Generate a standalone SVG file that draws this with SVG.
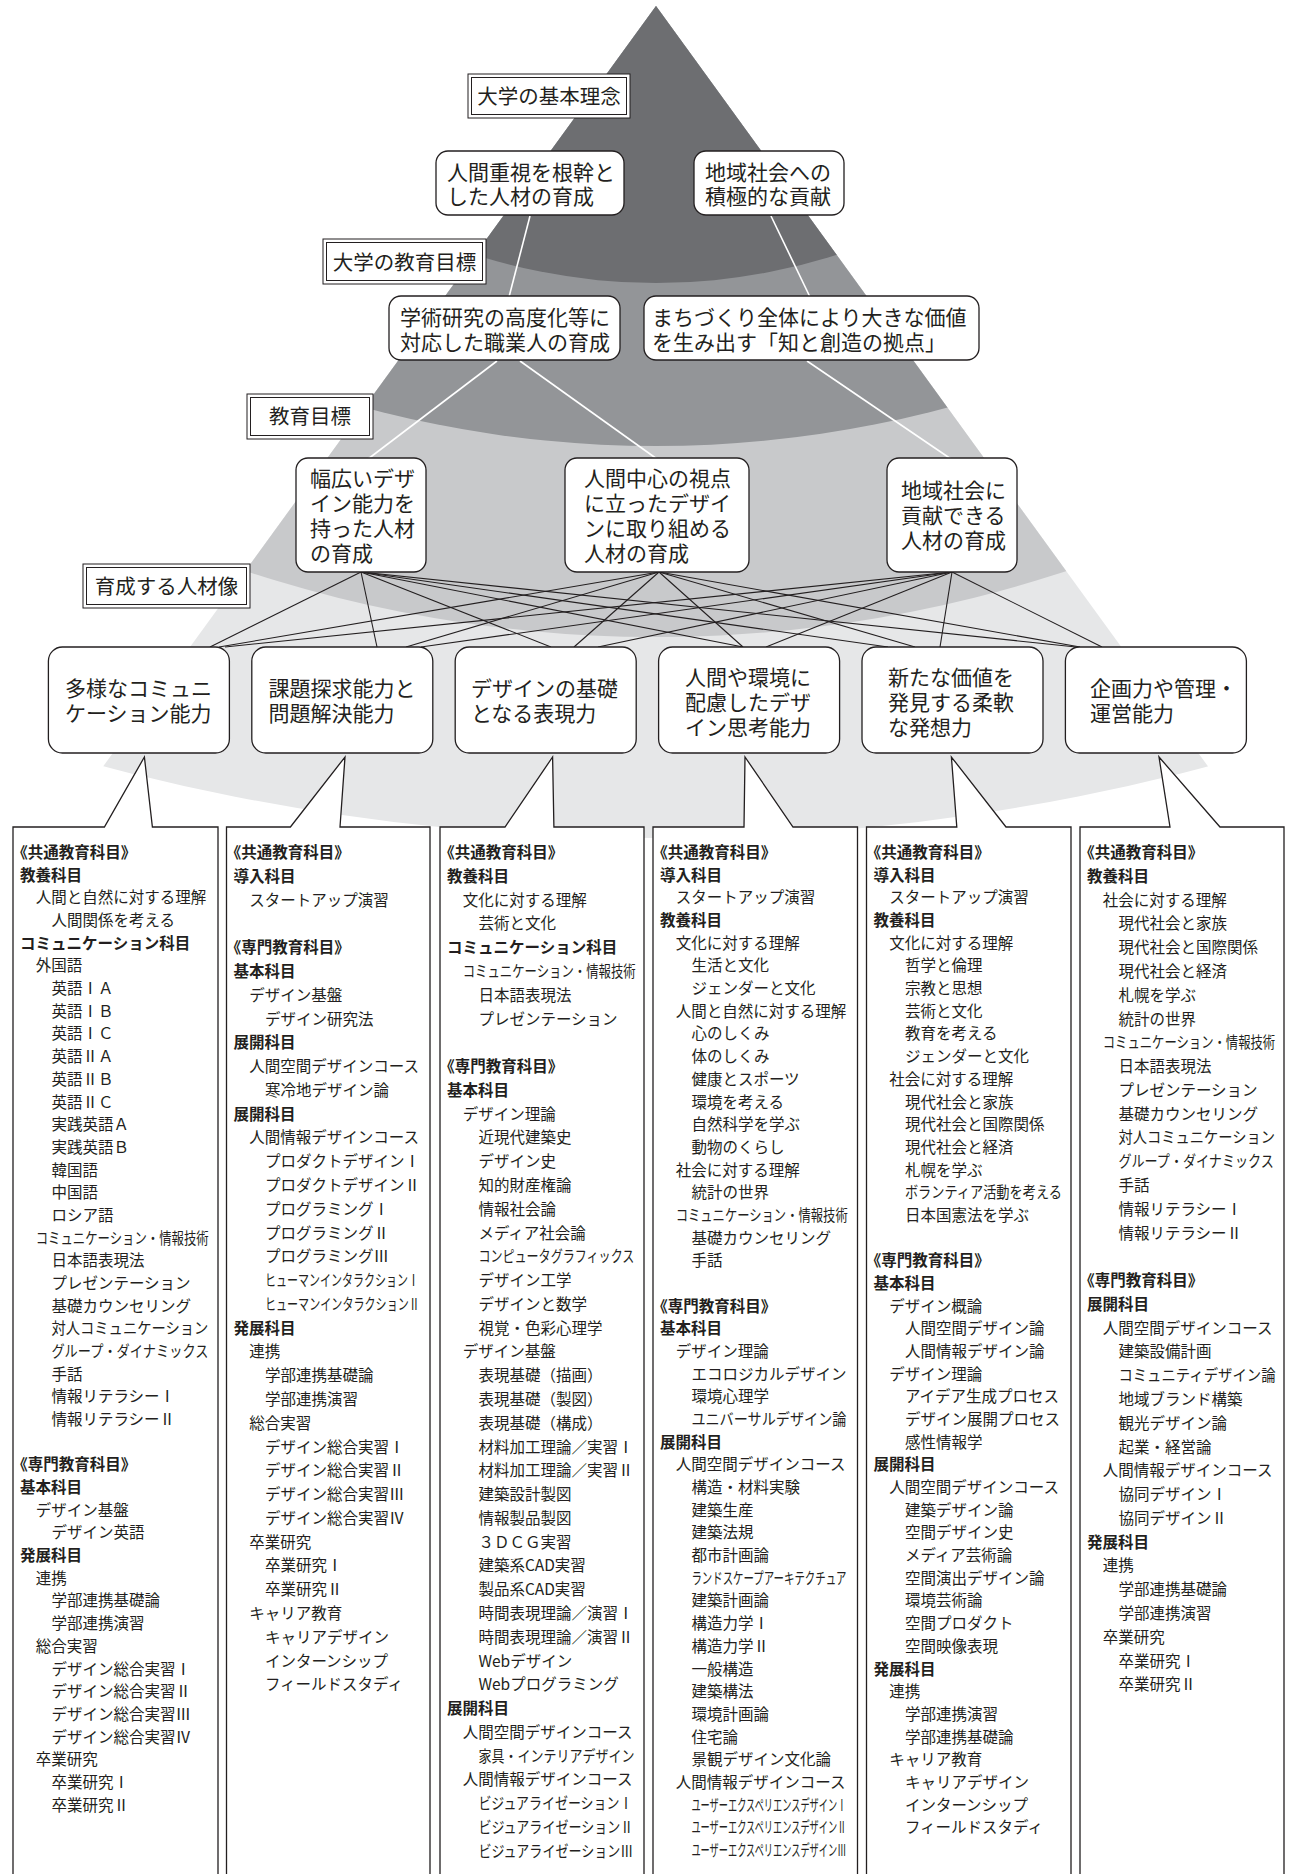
<svg xmlns="http://www.w3.org/2000/svg" width="1298" height="1874" viewBox="0 0 1298 1874">
<style>
text{font-family:"Noto Sans CJK JP","Noto Sans",sans-serif;fill:#231f20}
.n{font-size:21px}
.lb{font-size:20.5px;text-anchor:middle}
.c{font-size:15.5px}
.b{font-weight:700}
.p{font-feature-settings:"palt"}
.box{fill:#fff;stroke:#231f20;stroke-width:1.3}
.o{fill:#fff;stroke:#231f20;stroke-width:1}
.i{fill:none;stroke:#231f20;stroke-width:1}
.w{stroke:#fff;stroke-width:1.6;fill:none}
.k{stroke:#231f20;stroke-width:1.1;fill:none}
.col{fill:#fff;stroke:#231f20;stroke-width:1.3;stroke-linejoin:miter}
</style>
<defs>
<clipPath id="tri"><polygon points="656,6 6,900 1305,900"/></clipPath>
</defs>
<rect width="1298" height="1874" fill="#fff"/>
<g id="pyramid" clip-path="url(#tri)">
<circle cx="656" cy="-1326" r="2164" fill="#e6e7e8"/>
<circle cx="656" cy="-673" r="1310" fill="#c8c9cb"/>
<circle cx="656" cy="-680" r="1126" fill="#939598"/>
<circle cx="656" cy="-310" r="593" fill="#6d6e71"/>
</g>
<g id="connectors">
<line class="w" x1="530" y1="216" x2="509" y2="297"/>
<line class="w" x1="771" y1="216" x2="810" y2="297"/>
<line class="w" x1="497" y1="361" x2="368" y2="459"/>
<line class="w" x1="520" y1="361" x2="657" y2="459"/>
<line class="w" x1="807" y1="361" x2="951" y2="459"/>
<line class="k" x1="361" y1="572" x2="210" y2="647"/>
<line class="k" x1="361" y1="572" x2="377" y2="647"/>
<line class="k" x1="361" y1="572" x2="551" y2="647"/>
<line class="k" x1="361" y1="572" x2="743" y2="647"/>
<line class="k" x1="361" y1="572" x2="888" y2="647"/>
<line class="k" x1="361" y1="572" x2="1076" y2="647"/>
<line class="k" x1="659" y1="572" x2="219" y2="647"/>
<line class="k" x1="659" y1="572" x2="406" y2="647"/>
<line class="k" x1="659" y1="572" x2="574" y2="647"/>
<line class="k" x1="659" y1="572" x2="743" y2="647"/>
<line class="k" x1="659" y1="572" x2="915" y2="647"/>
<line class="k" x1="659" y1="572" x2="1080" y2="647"/>
<line class="k" x1="952" y1="572" x2="225" y2="647"/>
<line class="k" x1="952" y1="572" x2="421" y2="647"/>
<line class="k" x1="952" y1="572" x2="598" y2="647"/>
<line class="k" x1="952" y1="572" x2="766" y2="647"/>
<line class="k" x1="952" y1="572" x2="940" y2="647"/>
<line class="k" x1="952" y1="572" x2="1102" y2="647"/>
</g>
<g id="label-kihon"><rect class="o" x="468" y="74" width="162" height="44"/><rect class="i" x="471.5" y="77.5" width="155" height="37"/><text class="lb" x="549" y="104">大学の基本理念</text></g>
<g id="label-daigaku"><rect class="o" x="323" y="239" width="163" height="45"/><rect class="i" x="326.5" y="242.5" width="156" height="38"/><text class="lb" x="404.5" y="269.5">大学の教育目標</text></g>
<g id="label-kyouiku"><rect class="o" x="247" y="394" width="126" height="45"/><rect class="i" x="250.5" y="397.5" width="119" height="38"/><text class="lb" x="310" y="424">教育目標</text></g>
<g id="label-jinzai"><rect class="o" x="83" y="564" width="167" height="44"/><rect class="i" x="86.5" y="567.5" width="160" height="37"/><text class="lb" x="166.5" y="593.5">育成する人材像</text></g>
<g id="a1"><rect class="box" x="436" y="151" width="188" height="64" rx="12"/><text class="n"><tspan x="447" y="179.5">人間重視を根幹と</tspan><tspan x="447" y="204">した人材の育成</tspan></text></g>
<g id="a2"><rect class="box" x="694" y="151" width="150" height="64" rx="12"/><text class="n"><tspan x="705" y="179.5">地域社会への</tspan><tspan x="705" y="204">積極的な貢献</tspan></text></g>
<g id="b1"><rect class="box" x="389" y="296" width="231" height="64" rx="12"/><text class="n"><tspan x="400" y="324.5">学術研究の高度化等に</tspan><tspan x="400" y="349.5">対応した職業人の育成</tspan></text></g>
<g id="b2"><rect class="box" x="644" y="296" width="335" height="64" rx="12"/><text class="n"><tspan x="652" y="324.5">まちづくり全体により大きな価値</tspan><tspan x="652" y="349.5">を生み出す「知と創造の拠点」</tspan></text></g>
<g id="c1"><rect class="box" x="296" y="458" width="130" height="114" rx="12"/><text class="n"><tspan x="310" y="486">幅広いデザ</tspan><tspan x="310" y="511">イン能力を</tspan><tspan x="310" y="536">持った人材</tspan><tspan x="310" y="561">の育成</tspan></text></g>
<g id="c2"><rect class="box" x="565" y="458" width="184" height="114" rx="12"/><text class="n"><tspan x="584" y="486">人間中心の視点</tspan><tspan x="584" y="511">に立ったデザイ</tspan><tspan x="584" y="536">ンに取り組める</tspan><tspan x="584" y="561">人材の育成</tspan></text></g>
<g id="c3"><rect class="box" x="887" y="458" width="130" height="114" rx="12"/><text class="n"><tspan x="901" y="498">地域社会に</tspan><tspan x="901" y="523">貢献できる</tspan><tspan x="901" y="548">人材の育成</tspan></text></g>
<g id="d1"><rect class="box" x="48.4" y="647" width="181" height="106" rx="14"/><text class="n"><tspan x="65" y="696">多様なコミュニ</tspan><tspan x="65" y="721">ケーション能力</tspan></text></g>
<g id="d2"><rect class="box" x="251.8" y="647" width="181" height="106" rx="14"/><text class="n"><tspan x="268.5" y="696">課題探求能力と</tspan><tspan x="268.5" y="721">問題解決能力</tspan></text></g>
<g id="d3"><rect class="box" x="455.2" y="647" width="181" height="106" rx="14"/><text class="n"><tspan x="471" y="696">デザインの基礎</tspan><tspan x="471" y="721">となる表現力</tspan></text></g>
<g id="d4"><rect class="box" x="658.6" y="647" width="181" height="106" rx="14"/><text class="n"><tspan x="685" y="685">人間や環境に</tspan><tspan x="685" y="710">配慮したデザ</tspan><tspan x="685" y="735">イン思考能力</tspan></text></g>
<g id="d5"><rect class="box" x="862" y="647" width="181" height="106" rx="14"/><text class="n"><tspan x="888" y="685">新たな価値を</tspan><tspan x="888" y="710">発見する柔軟</tspan><tspan x="888" y="735">な発想力</tspan></text></g>
<g id="d6"><rect class="box" x="1065.4" y="647" width="181" height="106" rx="14"/><text class="n"><tspan x="1090" y="696">企画力や管理・</tspan><tspan x="1090" y="721">運営能力</tspan></text></g>
<g id="col1">
<path class="col" d="M104.4,827 L13,827 L13,1880 L218,1880 L218,827 L152.4,827 L144.4,757 Z"/>
<text class="c b p" x="20" y="858">《共通教育科目》</text>
<text class="c b" x="20" y="880.7">教養科目</text>
<text class="c" x="35.7" y="903.4">人間と自然に対する理解</text>
<text class="c" x="51.4" y="926">人間関係を考える</text>
<text class="c b" x="20" y="948.7">コミュニケーション科目</text>
<text class="c" x="35.7" y="971.4">外国語</text>
<text class="c" x="51.4" y="994.1">英語ⅠＡ</text>
<text class="c" x="51.4" y="1016.8">英語ⅠＢ</text>
<text class="c" x="51.4" y="1039.4">英語ⅠＣ</text>
<text class="c" x="51.4" y="1062.1">英語ⅡＡ</text>
<text class="c" x="51.4" y="1084.8">英語ⅡＢ</text>
<text class="c" x="51.4" y="1107.5">英語ⅡＣ</text>
<text class="c" x="51.4" y="1130.2">実践英語Ａ</text>
<text class="c" x="51.4" y="1152.8">実践英語Ｂ</text>
<text class="c" x="51.4" y="1175.5">韓国語</text>
<text class="c" x="51.4" y="1198.2">中国語</text>
<text class="c" x="51.4" y="1220.9">ロシア語</text>
<text class="c" x="35.7" y="1243.6" textLength="173" lengthAdjust="spacingAndGlyphs">コミュニケーション・情報技術</text>
<text class="c" x="51.4" y="1266.2">日本語表現法</text>
<text class="c" x="51.4" y="1288.9">プレゼンテーション</text>
<text class="c" x="51.4" y="1311.6">基礎カウンセリング</text>
<text class="c" x="51.4" y="1334.3" textLength="157" lengthAdjust="spacingAndGlyphs">対人コミュニケーション</text>
<text class="c" x="51.4" y="1357" textLength="157" lengthAdjust="spacingAndGlyphs">グループ・ダイナミックス</text>
<text class="c" x="51.4" y="1379.6">手話</text>
<text class="c" x="51.4" y="1402.3">情報リテラシーⅠ</text>
<text class="c" x="51.4" y="1425">情報リテラシーⅡ</text>
<text class="c b p" x="20" y="1470.4">《専門教育科目》</text>
<text class="c b" x="20" y="1493">基本科目</text>
<text class="c" x="35.7" y="1515.7">デザイン基盤</text>
<text class="c" x="51.4" y="1538.4">デザイン英語</text>
<text class="c b" x="20" y="1561.1">発展科目</text>
<text class="c" x="35.7" y="1583.8">連携</text>
<text class="c" x="51.4" y="1606.4">学部連携基礎論</text>
<text class="c" x="51.4" y="1629.1">学部連携演習</text>
<text class="c" x="35.7" y="1651.8">総合実習</text>
<text class="c" x="51.4" y="1674.5">デザイン総合実習Ⅰ</text>
<text class="c" x="51.4" y="1697.2">デザイン総合実習Ⅱ</text>
<text class="c" x="51.4" y="1719.8">デザイン総合実習Ⅲ</text>
<text class="c" x="51.4" y="1742.5">デザイン総合実習Ⅳ</text>
<text class="c" x="35.7" y="1765.2">卒業研究</text>
<text class="c" x="51.4" y="1787.9">卒業研究Ⅰ</text>
<text class="c" x="51.4" y="1810.6">卒業研究Ⅱ</text>
</g>
<g id="col2">
<path class="col" d="M290.4,827 L226.5,827 L226.5,1880 L430,1880 L430,827 L340,827 L345,757 Z"/>
<text class="c b p" x="233.5" y="858">《共通教育科目》</text>
<text class="c b" x="233.5" y="881.8">導入科目</text>
<text class="c" x="249.2" y="905.6">スタートアップ演習</text>
<text class="c b p" x="233.5" y="953.1">《専門教育科目》</text>
<text class="c b" x="233.5" y="976.9">基本科目</text>
<text class="c" x="249.2" y="1000.7">デザイン基盤</text>
<text class="c" x="264.9" y="1024.5">デザイン研究法</text>
<text class="c b" x="233.5" y="1048.2">展開科目</text>
<text class="c" x="249.2" y="1072">人間空間デザインコース</text>
<text class="c" x="264.9" y="1095.8">寒冷地デザイン論</text>
<text class="c b" x="233.5" y="1119.6">展開科目</text>
<text class="c" x="249.2" y="1143.4">人間情報デザインコース</text>
<text class="c" x="264.9" y="1167.1">プロダクトデザインⅠ</text>
<text class="c" x="264.9" y="1190.9">プロダクトデザインⅡ</text>
<text class="c" x="264.9" y="1214.7">プログラミングⅠ</text>
<text class="c" x="264.9" y="1238.5">プログラミングⅡ</text>
<text class="c" x="264.9" y="1262.3">プログラミングⅢ</text>
<text class="c" x="264.9" y="1286" textLength="154" lengthAdjust="spacingAndGlyphs">ヒューマンインタラクションⅠ</text>
<text class="c" x="264.9" y="1309.8" textLength="155" lengthAdjust="spacingAndGlyphs">ヒューマンインタラクションⅡ</text>
<text class="c b" x="233.5" y="1333.6">発展科目</text>
<text class="c" x="249.2" y="1357.4">連携</text>
<text class="c" x="264.9" y="1381.2">学部連携基礎論</text>
<text class="c" x="264.9" y="1404.9">学部連携演習</text>
<text class="c" x="249.2" y="1428.7">総合実習</text>
<text class="c" x="264.9" y="1452.5">デザイン総合実習Ⅰ</text>
<text class="c" x="264.9" y="1476.3">デザイン総合実習Ⅱ</text>
<text class="c" x="264.9" y="1500.1">デザイン総合実習Ⅲ</text>
<text class="c" x="264.9" y="1523.8">デザイン総合実習Ⅳ</text>
<text class="c" x="249.2" y="1547.6">卒業研究</text>
<text class="c" x="264.9" y="1571.4">卒業研究Ⅰ</text>
<text class="c" x="264.9" y="1595.2">卒業研究Ⅱ</text>
<text class="c" x="249.2" y="1619">キャリア教育</text>
<text class="c" x="264.9" y="1642.7">キャリアデザイン</text>
<text class="c" x="264.9" y="1666.5">インターンシップ</text>
<text class="c" x="264.9" y="1690.3">フィールドスタディ</text>
</g>
<g id="col3">
<path class="col" d="M505,827 L440,827 L440,1880 L644,1880 L644,827 L553.9,827 L552.6,757 Z"/>
<text class="c b p" x="447" y="858">《共通教育科目》</text>
<text class="c b" x="447" y="881.8">教養科目</text>
<text class="c" x="462.7" y="905.6">文化に対する理解</text>
<text class="c" x="478.4" y="929.3">芸術と文化</text>
<text class="c b" x="447" y="953.1">コミュニケーション科目</text>
<text class="c" x="462.7" y="976.9" textLength="173" lengthAdjust="spacingAndGlyphs">コミュニケーション・情報技術</text>
<text class="c" x="478.4" y="1000.7">日本語表現法</text>
<text class="c" x="478.4" y="1024.5">プレゼンテーション</text>
<text class="c b p" x="447" y="1072">《専門教育科目》</text>
<text class="c b" x="447" y="1095.8">基本科目</text>
<text class="c" x="462.7" y="1119.6">デザイン理論</text>
<text class="c" x="478.4" y="1143.4">近現代建築史</text>
<text class="c" x="478.4" y="1167.1">デザイン史</text>
<text class="c" x="478.4" y="1190.9">知的財産権論</text>
<text class="c" x="478.4" y="1214.7">情報社会論</text>
<text class="c" x="478.4" y="1238.5">メディア社会論</text>
<text class="c" x="478.4" y="1262.3" textLength="156" lengthAdjust="spacingAndGlyphs">コンピュータグラフィックス</text>
<text class="c" x="478.4" y="1286">デザイン工学</text>
<text class="c" x="478.4" y="1309.8">デザインと数学</text>
<text class="c" x="478.4" y="1333.6">視覚・色彩心理学</text>
<text class="c" x="462.7" y="1357.4">デザイン基盤</text>
<text class="c" x="478.4" y="1381.2">表現基礎（描画）</text>
<text class="c" x="478.4" y="1404.9">表現基礎（製図）</text>
<text class="c" x="478.4" y="1428.7">表現基礎（構成）</text>
<text class="c" x="478.4" y="1452.5">材料加工理論／実習Ⅰ</text>
<text class="c" x="478.4" y="1476.3">材料加工理論／実習Ⅱ</text>
<text class="c" x="478.4" y="1500.1">建築設計製図</text>
<text class="c" x="478.4" y="1523.8">情報製品製図</text>
<text class="c" x="478.4" y="1547.6">３ＤＣＧ実習</text>
<text class="c" x="478.4" y="1571.4">建築系CAD実習</text>
<text class="c" x="478.4" y="1595.2">製品系CAD実習</text>
<text class="c" x="478.4" y="1619">時間表現理論／演習Ⅰ</text>
<text class="c" x="478.4" y="1642.7">時間表現理論／演習Ⅱ</text>
<text class="c" x="478.4" y="1666.5">Webデザイン</text>
<text class="c" x="478.4" y="1690.3">Webプログラミング</text>
<text class="c b" x="447" y="1714.1">展開科目</text>
<text class="c" x="462.7" y="1737.9">人間空間デザインコース</text>
<text class="c" x="478.4" y="1761.6" textLength="156" lengthAdjust="spacingAndGlyphs">家具・インテリアデザイン</text>
<text class="c" x="462.7" y="1785.4">人間情報デザインコース</text>
<text class="c" x="478.4" y="1809.2" textLength="154" lengthAdjust="spacingAndGlyphs">ビジュアライゼーションⅠ</text>
<text class="c" x="478.4" y="1833" textLength="155" lengthAdjust="spacingAndGlyphs">ビジュアライゼーションⅡ</text>
<text class="c" x="478.4" y="1856.8" textLength="155" lengthAdjust="spacingAndGlyphs">ビジュアライゼーションⅢ</text>
</g>
<g id="col4">
<path class="col" d="M744,827 L653,827 L653,1880 L857.5,1880 L857.5,827 L793,827 L745,757 Z"/>
<text class="c b p" x="660" y="858">《共通教育科目》</text>
<text class="c b" x="660" y="880.7">導入科目</text>
<text class="c" x="675.7" y="903.4">スタートアップ演習</text>
<text class="c b" x="660" y="926">教養科目</text>
<text class="c" x="675.7" y="948.7">文化に対する理解</text>
<text class="c" x="691.4" y="971.4">生活と文化</text>
<text class="c" x="691.4" y="994.1">ジェンダーと文化</text>
<text class="c" x="675.7" y="1016.8">人間と自然に対する理解</text>
<text class="c" x="691.4" y="1039.4">心のしくみ</text>
<text class="c" x="691.4" y="1062.1">体のしくみ</text>
<text class="c" x="691.4" y="1084.8">健康とスポーツ</text>
<text class="c" x="691.4" y="1107.5">環境を考える</text>
<text class="c" x="691.4" y="1130.2">自然科学を学ぶ</text>
<text class="c" x="691.4" y="1152.8">動物のくらし</text>
<text class="c" x="675.7" y="1175.5">社会に対する理解</text>
<text class="c" x="691.4" y="1198.2">統計の世界</text>
<text class="c" x="675.7" y="1220.9" textLength="172" lengthAdjust="spacingAndGlyphs">コミュニケーション・情報技術</text>
<text class="c" x="691.4" y="1243.6">基礎カウンセリング</text>
<text class="c" x="691.4" y="1266.2">手話</text>
<text class="c b p" x="660" y="1311.6">《専門教育科目》</text>
<text class="c b" x="660" y="1334.3">基本科目</text>
<text class="c" x="675.7" y="1357">デザイン理論</text>
<text class="c" x="691.4" y="1379.6">エコロジカルデザイン</text>
<text class="c" x="691.4" y="1402.3">環境心理学</text>
<text class="c" x="691.4" y="1425" textLength="155" lengthAdjust="spacingAndGlyphs">ユニバーサルデザイン論</text>
<text class="c b" x="660" y="1447.7">展開科目</text>
<text class="c" x="675.7" y="1470.4">人間空間デザインコース</text>
<text class="c" x="691.4" y="1493">構造・材料実験</text>
<text class="c" x="691.4" y="1515.7">建築生産</text>
<text class="c" x="691.4" y="1538.4">建築法規</text>
<text class="c" x="691.4" y="1561.1">都市計画論</text>
<text class="c" x="691.4" y="1583.8" textLength="155" lengthAdjust="spacingAndGlyphs">ランドスケープアーキテクチュア</text>
<text class="c" x="691.4" y="1606.4">建築計画論</text>
<text class="c" x="691.4" y="1629.1">構造力学Ⅰ</text>
<text class="c" x="691.4" y="1651.8">構造力学Ⅱ</text>
<text class="c" x="691.4" y="1674.5">一般構造</text>
<text class="c" x="691.4" y="1697.2">建築構法</text>
<text class="c" x="691.4" y="1719.8">環境計画論</text>
<text class="c" x="691.4" y="1742.5">住宅論</text>
<text class="c" x="691.4" y="1765.2">景観デザイン文化論</text>
<text class="c" x="675.7" y="1787.9">人間情報デザインコース</text>
<text class="c" x="691.4" y="1810.6" textLength="155" lengthAdjust="spacingAndGlyphs">ユーザーエクスペリエンスデザインⅠ</text>
<text class="c" x="691.4" y="1833.2" textLength="155" lengthAdjust="spacingAndGlyphs">ユーザーエクスペリエンスデザインⅡ</text>
<text class="c" x="691.4" y="1855.9" textLength="155" lengthAdjust="spacingAndGlyphs">ユーザーエクスペリエンスデザインⅢ</text>
</g>
<g id="col5">
<path class="col" d="M956.8,827 L866.5,827 L866.5,1880 L1071,1880 L1071,827 L1006,827 L951.4,757 Z"/>
<text class="c b p" x="873.5" y="858">《共通教育科目》</text>
<text class="c b" x="873.5" y="880.7">導入科目</text>
<text class="c" x="889.2" y="903.4">スタートアップ演習</text>
<text class="c b" x="873.5" y="926">教養科目</text>
<text class="c" x="889.2" y="948.7">文化に対する理解</text>
<text class="c" x="904.9" y="971.4">哲学と倫理</text>
<text class="c" x="904.9" y="994.1">宗教と思想</text>
<text class="c" x="904.9" y="1016.8">芸術と文化</text>
<text class="c" x="904.9" y="1039.4">教育を考える</text>
<text class="c" x="904.9" y="1062.1">ジェンダーと文化</text>
<text class="c" x="889.2" y="1084.8">社会に対する理解</text>
<text class="c" x="904.9" y="1107.5">現代社会と家族</text>
<text class="c" x="904.9" y="1130.2">現代社会と国際関係</text>
<text class="c" x="904.9" y="1152.8">現代社会と経済</text>
<text class="c" x="904.9" y="1175.5">札幌を学ぶ</text>
<text class="c" x="904.9" y="1198.2" textLength="157" lengthAdjust="spacingAndGlyphs">ボランティア活動を考える</text>
<text class="c" x="904.9" y="1220.9">日本国憲法を学ぶ</text>
<text class="c b p" x="873.5" y="1266.2">《専門教育科目》</text>
<text class="c b" x="873.5" y="1288.9">基本科目</text>
<text class="c" x="889.2" y="1311.6">デザイン概論</text>
<text class="c" x="904.9" y="1334.3">人間空間デザイン論</text>
<text class="c" x="904.9" y="1357">人間情報デザイン論</text>
<text class="c" x="889.2" y="1379.6">デザイン理論</text>
<text class="c" x="904.9" y="1402.3">アイデア生成プロセス</text>
<text class="c" x="904.9" y="1425">デザイン展開プロセス</text>
<text class="c" x="904.9" y="1447.7">感性情報学</text>
<text class="c b" x="873.5" y="1470.4">展開科目</text>
<text class="c" x="889.2" y="1493">人間空間デザインコース</text>
<text class="c" x="904.9" y="1515.7">建築デザイン論</text>
<text class="c" x="904.9" y="1538.4">空間デザイン史</text>
<text class="c" x="904.9" y="1561.1">メディア芸術論</text>
<text class="c" x="904.9" y="1583.8">空間演出デザイン論</text>
<text class="c" x="904.9" y="1606.4">環境芸術論</text>
<text class="c" x="904.9" y="1629.1">空間プロダクト</text>
<text class="c" x="904.9" y="1651.8">空間映像表現</text>
<text class="c b" x="873.5" y="1674.5">発展科目</text>
<text class="c" x="889.2" y="1697.2">連携</text>
<text class="c" x="904.9" y="1719.8">学部連携演習</text>
<text class="c" x="904.9" y="1742.5">学部連携基礎論</text>
<text class="c" x="889.2" y="1765.2">キャリア教育</text>
<text class="c" x="904.9" y="1787.9">キャリアデザイン</text>
<text class="c" x="904.9" y="1810.6">インターンシップ</text>
<text class="c" x="904.9" y="1833.2">フィールドスタディ</text>
</g>
<g id="col6">
<path class="col" d="M1170,827 L1080,827 L1080,1880 L1284,1880 L1284,827 L1220,827 L1159,757 Z"/>
<text class="c b p" x="1087" y="858">《共通教育科目》</text>
<text class="c b" x="1087" y="881.8">教養科目</text>
<text class="c" x="1102.7" y="905.6">社会に対する理解</text>
<text class="c" x="1118.4" y="929.3">現代社会と家族</text>
<text class="c" x="1118.4" y="953.1">現代社会と国際関係</text>
<text class="c" x="1118.4" y="976.9">現代社会と経済</text>
<text class="c" x="1118.4" y="1000.7">札幌を学ぶ</text>
<text class="c" x="1118.4" y="1024.5">統計の世界</text>
<text class="c" transform="translate(1102.7,1048.2) scale(0.797,1)">コミュニケーション・情報技術</text>
<text class="c" x="1118.4" y="1072">日本語表現法</text>
<text class="c" x="1118.4" y="1095.8">プレゼンテーション</text>
<text class="c" x="1118.4" y="1119.6">基礎カウンセリング</text>
<text class="c" transform="translate(1118.4,1143.4) scale(0.921,1)">対人コミュニケーション</text>
<text class="c" transform="translate(1118.4,1167.1) scale(0.844,1)">グループ・ダイナミックス</text>
<text class="c" x="1118.4" y="1190.9">手話</text>
<text class="c" x="1118.4" y="1214.7">情報リテラシーⅠ</text>
<text class="c" x="1118.4" y="1238.5">情報リテラシーⅡ</text>
<text class="c b p" x="1087" y="1286">《専門教育科目》</text>
<text class="c b" x="1087" y="1309.8">展開科目</text>
<text class="c" x="1102.7" y="1333.6">人間空間デザインコース</text>
<text class="c" x="1118.4" y="1357.4">建築設備計画</text>
<text class="c" transform="translate(1118.4,1381.2) scale(0.927,1)">コミュニティデザイン論</text>
<text class="c" x="1118.4" y="1404.9">地域ブランド構築</text>
<text class="c" x="1118.4" y="1428.7">観光デザイン論</text>
<text class="c" x="1118.4" y="1452.5">起業・経営論</text>
<text class="c" x="1102.7" y="1476.3">人間情報デザインコース</text>
<text class="c" x="1118.4" y="1500.1">協同デザインⅠ</text>
<text class="c" x="1118.4" y="1523.8">協同デザインⅡ</text>
<text class="c b" x="1087" y="1547.6">発展科目</text>
<text class="c" x="1102.7" y="1571.4">連携</text>
<text class="c" x="1118.4" y="1595.2">学部連携基礎論</text>
<text class="c" x="1118.4" y="1619">学部連携演習</text>
<text class="c" x="1102.7" y="1642.7">卒業研究</text>
<text class="c" x="1118.4" y="1666.5">卒業研究Ⅰ</text>
<text class="c" x="1118.4" y="1690.3">卒業研究Ⅱ</text>
</g>
</svg>
